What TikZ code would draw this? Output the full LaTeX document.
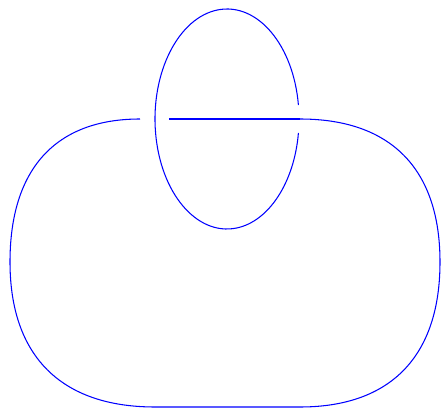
\documentclass[tikz,border=0pt]{standalone}
\usepackage{tikz}
\usetikzlibrary{calc}
\tikzset{
  strand/.style={draw=blue, line width=0.9pt},
}
\begin{document}
\begin{tikzpicture}[x=0.03cm, y=0.03cm]
\useasboundingbox (0,0) rectangle (441,411);

% --- Crossing points ---
\coordinate (leftEnd) at (140,292);
\coordinate (leftStart) at (169,292);
\coordinate (rightCross) at (300,292);

% --- Outer loop ---
\draw[strand] (rightCross) .. controls (391,292) and (440,242) .. (440,149)
    .. controls (440,55) and (391,4) .. (300,4)
    -- (155,4)
    .. controls (61,4) and (10,55) .. (10,149)
    .. controls (10,242) and (55.5,292) .. (leftEnd);

% Over strand through the loop
\draw[strand] (leftStart) -- (rightCross);

% --- Upper loop, broken at the right crossing ---
\draw[strand] ($(227,292)+(7.3:72 and 110)$) arc[start angle=7.3, end angle=352.7, x radius=72, y radius=110];

\end{tikzpicture}
\end{document}
